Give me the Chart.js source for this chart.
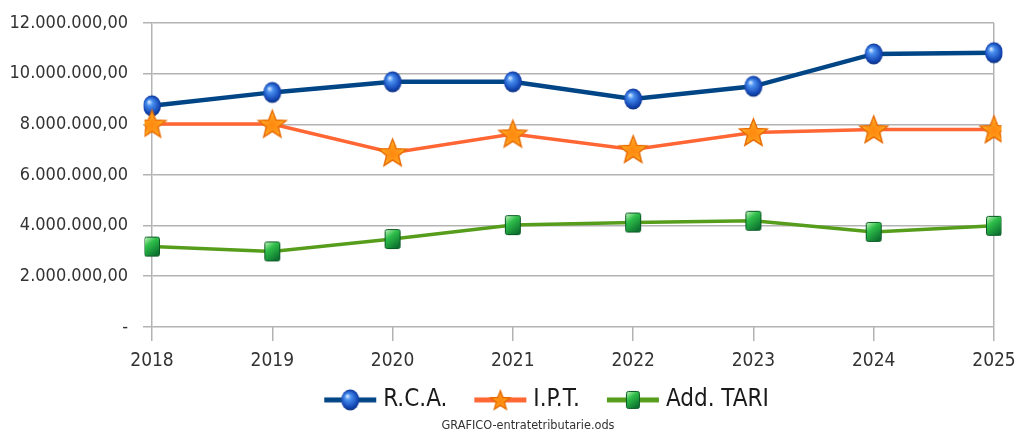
<!DOCTYPE html>
<html>
<head>
<meta charset="utf-8">
<script src="https://cdn.jsdelivr.net/npm/chart.js@4.4.1/dist/chart.umd.min.js"></script>
<style>
    html, body { margin: 0; padding: 0; background: #fff; }
</style>
</head>
<body>
<canvas id="chart" width="1015" height="433"></canvas>
<script>
// ------------------------------- Data -------------------------------
const years = ["2018", "2019", "2020", "2021", "2022", "2023", "2024", "2025"];
const rca = [8730000, 9260000, 9680000, 9680000, 9000000, 9500000, 10780000, 10830000];
const ipt = [8010000, 8010000, 6880000, 7620000, 7010000, 7680000, 7790000, 7790000];
const tari = [3170000, 2980000, 3470000, 4020000, 4120000, 4190000, 3750000, 3990000];
const seriesNames = ["R.C.A.", "I.P.T.", "Add. TARI"];
const sourceNote = "GRAFICO-entratetributarie.ods";

const FONT = "'DejaVu Sans Condensed', 'Liberation Sans', sans-serif";
const BLUE = "#004586";
const ORANGE = "#ff6633";
const GREEN = "#579d1c";

// Italian style number: 12.000.000,00 and "-" for zero
function formatEuro(value) {
    if (value === 0) return "-";
    const parts = value.toFixed(2).split(".");
    const intPart = parts[0].replace(/\B(?=(\d{3})+(?!\d))/g, ".");
    return intPart + "," + parts[1];
}

// ------------------------------- Marker images -------------------------------
function makeCanvas(w, h) {
    const c = document.createElement("canvas");
    c.width = w;
    c.height = h;
    return c;
}

function drawSphere(ctx, cx, cy) {
    const g = ctx.createRadialGradient(cx - 3, cy - 4, 0.5, cx, cy, 11);
    g.addColorStop(0, "#cfe4ff");
    g.addColorStop(0.25, "#4a90f0");
    g.addColorStop(0.75, "#1447b5");
    g.addColorStop(1, "#082a70");
    ctx.fillStyle = g;
    ctx.beginPath();
    ctx.ellipse(cx, cy, 9, 10.5, 0, 0, Math.PI * 2);
    ctx.fill();
}

function drawStar(ctx, cx, cy, outer, inner) {
    ctx.beginPath();
    for (let i = 0; i < 10; i++) {
        const r = i % 2 === 0 ? outer : inner;
        const a = -Math.PI / 2 + (i * Math.PI) / 5;
        const x = cx + r * Math.cos(a);
        const y = cy + r * Math.sin(a);
        if (i === 0) ctx.moveTo(x, y);
        else ctx.lineTo(x, y);
    }
    ctx.closePath();
    const g = ctx.createRadialGradient(cx, cy, 1, cx, cy, outer);
    g.addColorStop(0, "#ff8a10");
    g.addColorStop(0.5, "#ff9a1a");
    g.addColorStop(1, "#ffd040");
    ctx.fillStyle = g;
    ctx.fill();
    ctx.strokeStyle = "#e86a00";
    ctx.lineWidth = 1.5;
    ctx.stroke();
}

function drawBlock(ctx, cx, cy, w, h) {
    const x = cx - w / 2;
    const y = cy - h / 2;
    const g = ctx.createLinearGradient(x, y, x + w, y + h);
    g.addColorStop(0, "#c8f5c0");
    g.addColorStop(0.35, "#2fbf4a");
    g.addColorStop(1, "#05602a");
    ctx.fillStyle = g;
    ctx.beginPath();
    ctx.roundRect(x, y, w, h, 2);
    ctx.fill();
    ctx.strokeStyle = "#0a5a24";
    ctx.lineWidth = 1;
    ctx.stroke();
}

function sphereIcon() {
    const c = makeCanvas(20, 24);
    drawSphere(c.getContext("2d"), 10, 12);
    return c;
}

function starIcon(outer, inner) {
    const s = Math.ceil(outer * 2 + 4);
    const c = makeCanvas(s, s);
    drawStar(c.getContext("2d"), s / 2, s / 2 + 1, outer, inner);
    return c;
}

function blockIcon() {
    const c = makeCanvas(18, 22);
    drawBlock(c.getContext("2d"), 9, 11, 15, 19);
    return c;
}

// Legend icon: line with the marker in the middle, with a blank margin on the left
// so the items get the spacing of the original legend
function legendIcon(color, width, drawMarker) {
    const c = makeCanvas(100, 26);
    const ctx = c.getContext("2d");
    ctx.strokeStyle = color;
    ctx.lineWidth = width;
    ctx.beginPath();
    ctx.moveTo(35, 13);
    ctx.lineTo(87, 13);
    ctx.stroke();
    drawMarker(ctx, 61, 13);
    return c;
}

const pointIcons = [sphereIcon(), starIcon(14.5, 6.3), blockIcon()];
const legendIcons = [
    legendIcon(BLUE, 5, (ctx, x, y) => drawSphere(ctx, x, y)),
    legendIcon(ORANGE, 5, (ctx, x, y) => drawStar(ctx, x, y + 1, 10, 4.3)),
    legendIcon(GREEN, 5, (ctx, x, y) => drawBlock(ctx, x, y, 13, 17)),
];

// Move legend and footer sideways like in the original (not centred on the canvas)
const nudgeBoxes = {
    id: "nudgeBoxes",
    afterLayout(chart) {
        if (chart.legend) {
            chart.legend.left -= 35;
            chart.legend.right -= 35;
        }
        if (chart.titleBlock) {
            chart.titleBlock.left += 31;
            chart.titleBlock.right += 31;
        }
    },
};

// ------------------------------- Chart -------------------------------
const gridColor = "#b3b3b3";

new Chart("chart", {
    type: "line",
    data: {
        labels: years,
        datasets: [
            { label: seriesNames[0], data: rca, borderColor: BLUE, backgroundColor: BLUE, borderWidth: 4.5, pointStyle: pointIcons[0], order: 3 },
            { label: seriesNames[1], data: ipt, borderColor: ORANGE, backgroundColor: ORANGE, borderWidth: 3.5, pointStyle: pointIcons[1], order: 1 },
            { label: seriesNames[2], data: tari, borderColor: GREEN, backgroundColor: GREEN, borderWidth: 3.5, pointStyle: pointIcons[2], order: 2 },
        ],
    },
    plugins: [nudgeBoxes],
    options: {
        responsive: false,
        animation: false,
        events: [],
        layout: { padding: { top: 23, right: 21, left: 0, bottom: 0 } },
        elements: { line: { tension: 0, fill: false } },
        scales: {
            x: {
                offset: false,
                grid: {
                    drawOnChartArea: true,
                    color: (ctx) => (ctx.index === years.length - 1 ? gridColor : "transparent"),
                    tickColor: gridColor,
                    tickLength: 14,
                    lineWidth: 1.5,
                },
                border: { display: false },
                ticks: { color: "#333", font: { family: FONT, size: 19 }, padding: 9, maxRotation: 0 },
                afterFit: (scale) => {
                    scale.height = 51;
                    scale.paddingLeft = 0;
                    scale.paddingRight = 0;
                },
            },
            y: {
                min: 0,
                max: 12000000,
                grid: { color: gridColor, tickColor: gridColor, tickLength: 9, lineWidth: 1.5 },
                border: { color: gridColor, width: 1.5 },
                ticks: {
                    stepSize: 2000000,
                    color: "#333",
                    font: { family: FONT, size: 18 },
                    padding: 15,
                    callback: (v) => formatEuro(v),
                },
                afterFit: (scale) => {
                    scale.width = 152;
                    scale.paddingTop = 0;
                    scale.paddingBottom = 0;
                },
            },
        },
        plugins: {
            legend: {
                position: "bottom",
                fullSize: false,
                labels: {
                    usePointStyle: true,
                    pointStyleWidth: 64,
                    color: "#1a1a1a",
                    font: { family: FONT, size: 24 },
                    padding: 10,
                    sort: (a, b) => a.datasetIndex - b.datasetIndex,
                    generateLabels: (chart) =>
                        Chart.defaults.plugins.legend.labels
                            .generateLabels(chart)
                            .map((item) => ({ ...item, pointStyle: legendIcons[item.datasetIndex] })),
                },
            },
            title: {
                display: true,
                position: "bottom",
                text: sourceNote,
                color: "#333",
                font: { family: FONT, size: 12.6, weight: "normal" },
                padding: { top: -4, bottom: 0 },
            },
            tooltip: { enabled: false },
        },
    },
});
</script>
</body>
</html>
